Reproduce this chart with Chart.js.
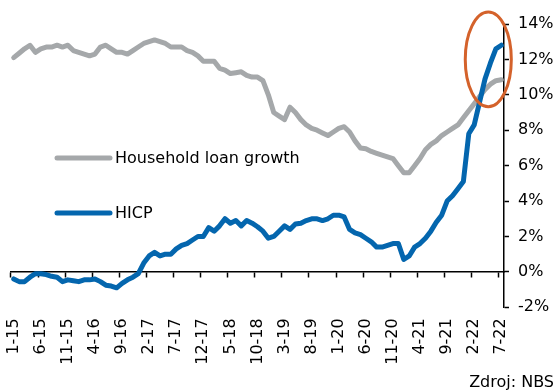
<!DOCTYPE html>
<html><head><meta charset="utf-8">
<script src="https://cdn.jsdelivr.net/npm/chart.js@4"></script>
<style>html,body{margin:0;padding:0;background:#fff;}#wrap{width:554px;height:392px;}</style>
</head><body><div id="wrap"><canvas id="c" width="554" height="392"></canvas></div>
<script>
const categories = [
'1-15','2-15','3-15','4-15','5-15','6-15','7-15','8-15','9-15','10-15','11-15','12-15',
'1-16','2-16','3-16','4-16','5-16','6-16','7-16','8-16','9-16','10-16','11-16','12-16',
'1-17','2-17','3-17','4-17','5-17','6-17','7-17','8-17','9-17','10-17','11-17','12-17',
'1-18','2-18','3-18','4-18','5-18','6-18','7-18','8-18','9-18','10-18','11-18','12-18',
'1-19','2-19','3-19','4-19','5-19','6-19','7-19','8-19','9-19','10-19','11-19','12-19',
'1-20','2-20','3-20','4-20','5-20','6-20','7-20','8-20','9-20','10-20','11-20','12-20',
'1-21','2-21','3-21','4-21','5-21','6-21','7-21','8-21','9-21','10-21','11-21','12-21',
'1-22','2-22','3-22','4-22','5-22','6-22','7-22'];

const householdLoanGrowth = [
12.1,12.35,12.6,12.8,12.4,12.6,12.7,12.7,12.8,12.7,
12.8,12.5,12.4,12.3,12.2,12.3,12.7,12.8,12.6,12.4,
12.4,12.3,12.5,12.7,12.9,13.0,13.1,13.0,12.9,12.7,
12.7,12.7,12.5,12.4,12.2,11.9,11.9,11.9,11.5,11.4,
11.2,11.25,11.3,11.1,11.0,11.0,10.8,10.0,9.0,8.8,
8.6,9.3,9.0,8.6,8.3,8.1,8.0,7.85,7.7,7.9,
8.1,8.2,7.9,7.4,7.0,6.95,6.8,6.7,6.6,6.5,
6.4,6.0,5.6,5.6,6.0,6.4,6.9,7.2,7.4,7.7,
7.9,8.1,8.3,8.7,9.1,9.5,9.9,10.3,10.6,10.8,
10.85];

const hicp = [
-0.4,-0.55,-0.55,-0.3,-0.1,-0.1,-0.15,-0.25,-0.3,-0.55,
-0.45,-0.5,-0.55,-0.45,-0.45,-0.4,-0.55,-0.75,-0.8,-0.9,
-0.65,-0.45,-0.3,-0.1,0.5,0.9,1.1,0.9,1.0,1.0,
1.3,1.5,1.6,1.8,2.0,2.0,2.5,2.3,2.6,3.0,
2.75,2.9,2.6,2.9,2.75,2.55,2.3,1.9,2.0,2.3,
2.6,2.4,2.7,2.75,2.9,3.0,3.0,2.9,3.0,3.2,
3.2,3.1,2.4,2.2,2.1,1.9,1.7,1.4,1.4,1.5,
1.6,1.6,0.7,0.9,1.4,1.6,1.9,2.3,2.8,3.2,
4.0,4.3,4.7,5.1,7.8,8.3,9.6,10.9,11.8,12.6,
12.8];

const seriesNames = ['Household loan growth', 'HICP'];
const yMin = -2, yMax = 14, yStep = 2;
const labelEvery = 5;
const sourceNote = 'Zdroj: NBS';

const GRAY = '#A5A8AA';
const BLUE = '#0466AE';
const ORANGE = '#D4622B';
const FONT = '"DejaVu Sans", Verdana, sans-serif';

Chart.defaults.font.family = FONT;
Chart.defaults.font.size = 16;
Chart.defaults.color = '#000';

const inlineLegend = {
  id: 'inlineLegend',
  afterDraw(chart, args, opts) {
    const {ctx, chartArea} = chart;
    ctx.save();
    chart.data.datasets.forEach((ds, i) => {
      const y = chartArea.top + opts.rows[i];
      const x0 = chartArea.left + opts.left;
      ctx.beginPath();
      ctx.strokeStyle = ds.borderColor;
      ctx.lineWidth = 5;
      ctx.lineCap = 'round';
      ctx.moveTo(x0, y);
      ctx.lineTo(x0 + opts.sample, y);
      ctx.stroke();
      ctx.fillStyle = '#000';
      ctx.font = '16px ' + FONT;
      ctx.textBaseline = 'middle';
      ctx.textAlign = 'left';
      ctx.fillText(ds.label, x0 + opts.sample + opts.gap, y + 1);
    });
    ctx.restore();
  }
};

const ellipseMark = {
  id: 'ellipseMark',
  afterDatasetsDraw(chart, args, o) {
    const {ctx} = chart;
    const xs = chart.scales.x, ys = chart.scales.y;
    const cx = xs.getPixelForValue(o.centerIndex);
    const rx = Math.abs(xs.getPixelForValue(o.centerIndex + o.radiusIndex) - cx);
    const cy = ys.getPixelForValue(o.centerValue);
    const ry = Math.abs(ys.getPixelForValue(o.centerValue + o.radiusValue) - cy);
    ctx.save();
    ctx.beginPath();
    ctx.ellipse(cx, cy, rx, ry, 0, 0, Math.PI * 2);
    ctx.strokeStyle = o.color;
    ctx.lineWidth = o.width;
    ctx.stroke();
    ctx.restore();
  }
};

new Chart(document.getElementById('c'), {
  type: 'line',
  data: {
    labels: categories,
    datasets: [
      {label: seriesNames[0], data: householdLoanGrowth, borderColor: GRAY, backgroundColor: GRAY,
       borderWidth: 5, pointRadius: 0, tension: 0, order: 1, borderJoinStyle: 'round', borderCapStyle: 'round',
       xAxisID: 'x', yAxisID: 'y'},
      {label: seriesNames[1], data: hicp, borderColor: BLUE, backgroundColor: BLUE,
       borderWidth: 5, pointRadius: 0, tension: 0, order: 0, borderJoinStyle: 'round', borderCapStyle: 'round',
       xAxisID: 'x', yAxisID: 'y'}
    ]
  },
  options: {
    responsive: false,
    animation: false,
    devicePixelRatio: 1,
    layout: {padding: {left: 11, right: 0, top: 24, bottom: 0}},
    plugins: {
      legend: {display: false},
      tooltip: {enabled: false},
      title: {display: true, text: sourceNote, position: 'bottom', align: 'end',
              font: {size: 16, weight: 'normal'}, color: '#000', padding: {top: 8, bottom: 0}},
      inlineLegend: {left: 46, sample: 53, gap: 5, rows: [134, 189]},
      ellipseMark: {centerIndex: 87.6, radiusIndex: 4.25, centerValue: 12, radiusValue: 2.68, color: ORANGE, width: 3}
    },
    scales: {
      x: {
        type: 'category', position: {y: 0}, offset: true,
        grid: {offset: true, drawOnChartArea: false, drawTicks: true, tickLength: 5, tickWidth: 1.5,
               color: 'rgba(0,0,0,0)',
               tickColor: c => (c.index % labelEvery === 0 ? '#000' : 'rgba(0,0,0,0)')},
        border: {display: true, color: '#000', width: 1.5},
        ticks: {display: false, autoSkip: false}
      },
      xLabels: {
        type: 'category', position: 'bottom', offset: true,
        grid: {display: false, drawTicks: false},
        border: {display: false},
        ticks: {autoSkip: false, minRotation: 90, maxRotation: 90, padding: 11,
                callback: (v, i) => (i % labelEvery === 0 ? categories[i] : '')},
        afterFit: s => { s.height = 57.5; }
      },
      y: {
        position: 'right', min: yMin, max: yMax,
        ticks: {stepSize: yStep, padding: 9, callback: v => v + '%'},
        grid: {drawOnChartArea: false, tickLength: 5, tickColor: '#000', tickWidth: 1.5},
        border: {display: true, color: '#000', width: 1.5},
        afterFit: s => { s.width = 50; }
      }
    }
  },
  plugins: [inlineLegend, ellipseMark]
});
</script>
</body></html>
